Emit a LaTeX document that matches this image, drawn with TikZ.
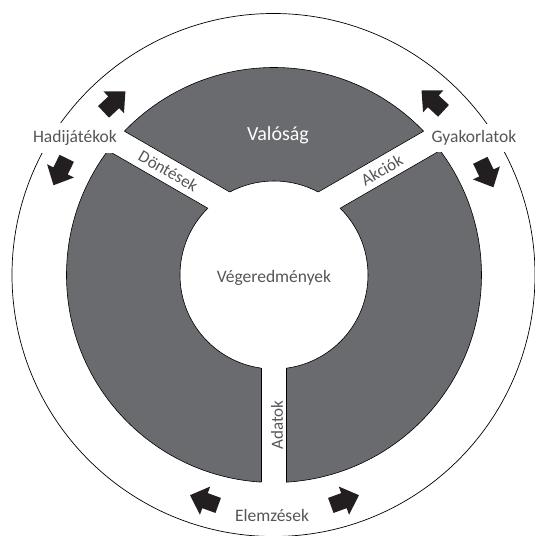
\documentclass[tikz,border=0pt]{standalone}
\usepackage{fontspec}
\setmainfont{Carlito}
\definecolor{ringgray}{RGB}{106,107,111}
\definecolor{txtgray}{RGB}{85,86,90}
\definecolor{arrowblk}{RGB}{35,31,32}
\tikzset{
  lbl/.style={text=txtgray, font=\fontsize{17.5}{20}\selectfont, inner sep=1pt},
  outerlbl/.style={lbl, fill=white, inner xsep=3pt, inner ysep=7pt},
  gaplbl/.style={text=txtgray, font=\fontsize{17}{20}\selectfont, inner sep=0pt},
  fatarrow/.pic={\fill[arrowblk] (-13,-8) -- (1,-8) -- (1,-15) -- (17,0) -- (1,15) -- (1,8) -- (-13,8) -- cycle;},
  edge/.style={draw=black, line width=0.6pt}
}
\begin{document}
\begin{tikzpicture}[x=1pt,y=1pt]
\useasboundingbox (-274,-261) rectangle (261,275);
% outer circle
\draw[line width=0.7pt] (-0.5,0) circle (261.5);
% gray ring
\fill[ringgray, even odd rule] (0,0) circle (207.5) (0,0) circle (94);
\draw[edge] (0,0) circle (207.5);
\draw[edge] (0,0) circle (94);
\coordinate (J) at (0,43);
% white gaps
\begin{scope}
  \clip (0,0) circle (209);
  \foreach \a in {30,150,270}{
    \fill[white, shift={(J)}, rotate=\a] (-1,-12.5) rectangle (300,12.5);
  }
\end{scope}
% gap edges
\begin{scope}[even odd rule]
  \clip (0,0) circle (207.5) (0,0) circle (94);
  \foreach \a in {30,150,270}{
    \draw[edge, shift={(J)}, rotate=\a] (-40,-12.5) -- (300,-12.5) (-40,12.5) -- (300,12.5);
  }
\end{scope}
% labels
\node[text=white, font=\fontsize{20}{22}\selectfont] (val) at (4,140) {Valóság};
\node[lbl] (veg) at (0,-3) {Végeredmények};
\node[gaplbl, rotate=-30] (dont) at (-105.7,104) {Döntések};
\node[gaplbl, rotate=30] (akc) at (108,105) {Akciók};
\node[gaplbl, rotate=90] (adat) at (3,-150) {Adatok};
\node[outerlbl] (hadi) at (-199,137) {Hadijátékok};
\node[outerlbl] (gyak) at (200,137) {Gyakorlatok};
\node[outerlbl] (elem) at (-2,-240) {Elemzések};
% arrows
\pic[rotate=43.1] at (-161,172) {fatarrow};
\pic[rotate=243.8] at (-213,105) {fatarrow};
\pic[rotate=137.2] at (160,173) {fatarrow};
\pic[rotate=-64.1] at (212,103) {fatarrow};
\pic[rotate=160] at (-68,-226) {fatarrow};
\pic[rotate=20] at (69,-226) {fatarrow};
\end{tikzpicture}
\end{document}
